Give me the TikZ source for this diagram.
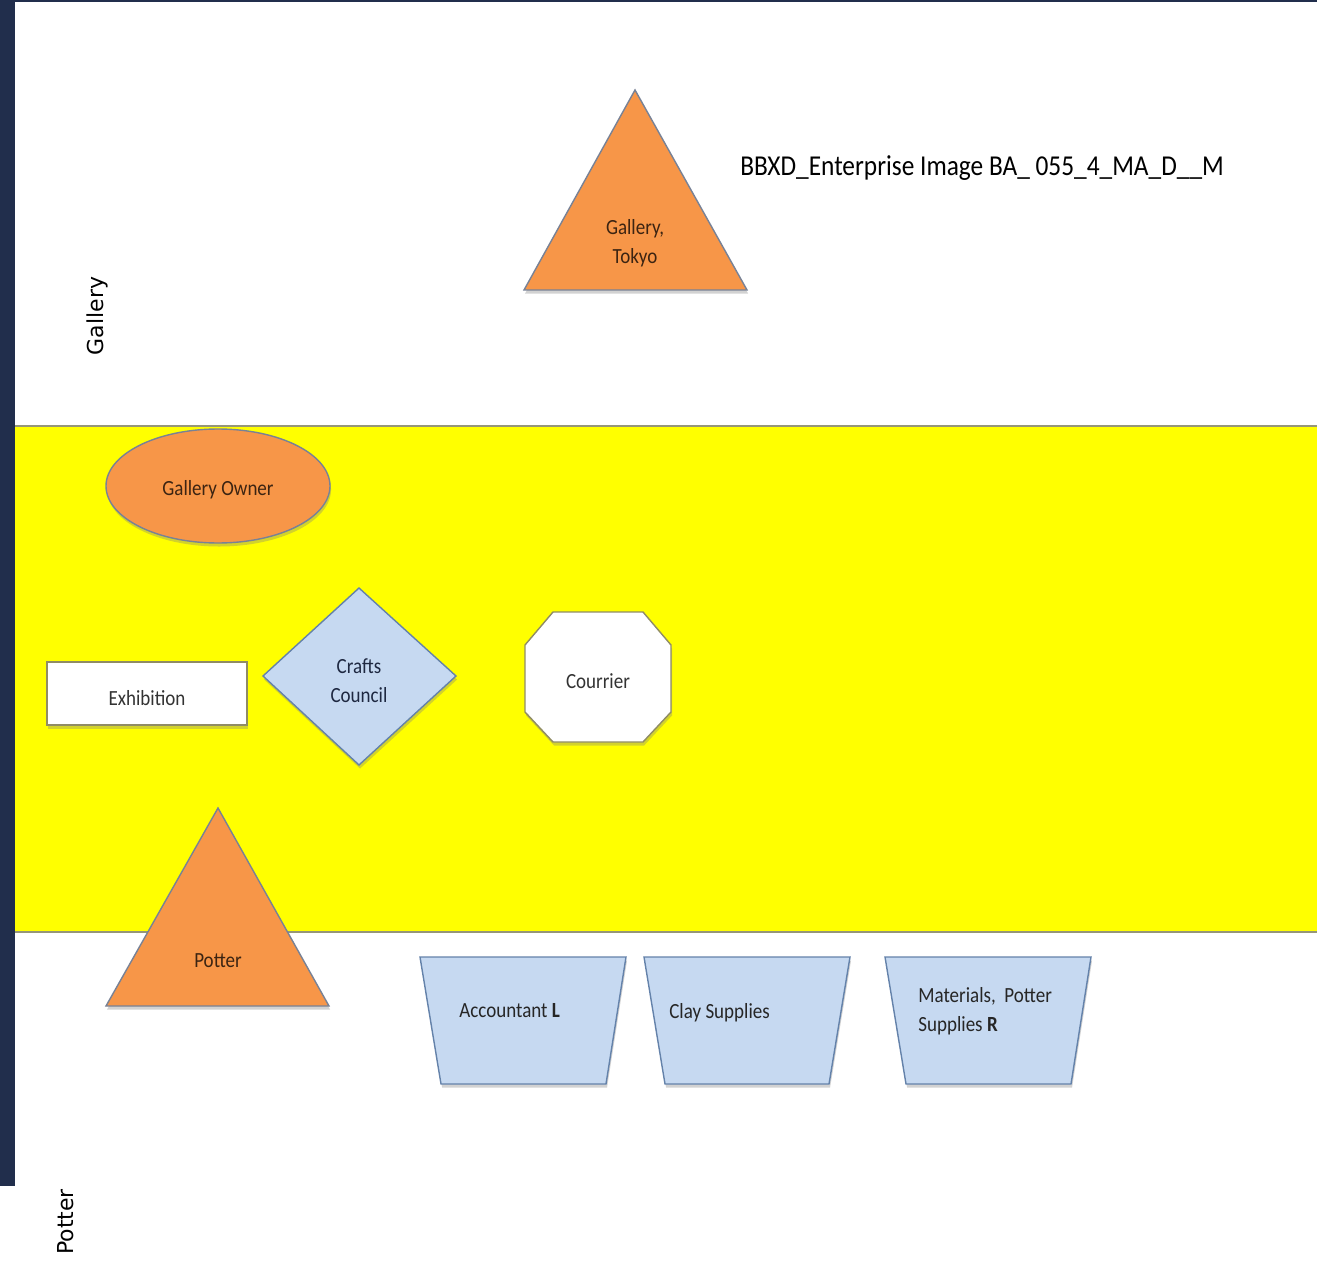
\documentclass[tikz,border=0pt]{standalone}
\usepackage{fontspec}
\setmainfont{Carlito}[FakeStretch=0.88]
\newfontfamily\lanefont{DejaVu Sans}
\usetikzlibrary{shadows}
\definecolor{navybar}{RGB}{33,46,76}
\definecolor{orangefill}{RGB}{247,150,72}
\definecolor{orangeline}{RGB}{120,130,150}
\definecolor{bluefill}{RGB}{198,217,241}
\definecolor{blueline}{RGB}{100,130,170}
\definecolor{bandline}{RGB}{150,150,120}
\definecolor{browntext}{RGB}{60,36,18}
\definecolor{navytext}{RGB}{30,40,65}
\definecolor{bandyellow}{RGB}{255,255,0}
\begin{document}
\begin{tikzpicture}[x=0.02cm,y=-0.02cm,
  shp/.style={line width=0.8pt, drop shadow={shadow xshift=0.6pt, shadow yshift=-2pt, opacity=0.35}},
  orangeshp/.style={shp, fill=orangefill, draw=orangeline},
  blueshp/.style={shp, fill=bluefill, draw=blueline},
  whiteshp/.style={shp, fill=white, draw=gray!70!olive},
  lbl/.style={font=\fontsize{12.3}{16.6}\selectfont, inner sep=0pt, align=center},
  lanelbl/.style={font=\lanefont\fontsize{12.5}{15}\selectfont, rotate=90, inner sep=0pt}]
\useasboundingbox (0,0) rectangle (1317,1263);
\fill[white] (0,0) rectangle (1317,1263);
% frame
\fill[navybar] (0,0) rectangle (15,1186);
\fill[navybar] (0,0) rectangle (1317,2.5);
% yellow band
\fill[bandyellow] (15,426) rectangle (1317,932);
\draw[bandline, line width=1.2pt] (15,426) -- (1317,426);
\draw[bandline, line width=1.2pt] (15,932) -- (1317,932);
% lane labels
\node[lanelbl] (lanegallery) at (97,316) {Gallery};
\node[lanelbl] (lanepotter) at (66,1222) {Potter};
% title
\node[font=\fontsize{16.4}{19}\selectfont, anchor=west, inner sep=0pt] (title) at (740,168) {BBXD\_Enterprise Image BA\_ 055\_4\_MA\_D\_\_M};
% Gallery Tokyo triangle
\path[orangeshp] (635,90) -- (747,290) -- (524,290) -- cycle;
\node[lbl, text=browntext] (gallerytokyo) at (635,243) {Gallery,\\Tokyo};
% Gallery owner ellipse
\path[orangeshp] (218,486) ellipse [x radius=112, y radius=57];
\node[lbl, text=browntext] (galleryowner) at (218,490) {Gallery Owner};
% Exhibition
\path[whiteshp] (47,662) rectangle (247,725);
\node[lbl, text=black!80] (exhibition) at (147,698) {Exhibition};
% Crafts council diamond
\path[blueshp] (359,588) -- (456,676) -- (359,765) -- (263,676) -- cycle;
\node[lbl, text=navytext] (crafts) at (359,681) {Crafts\\Council};
% Courrier octagon
\path[whiteshp] (553,612) -- (643,612) -- (671,645) -- (671,712) -- (643,742) -- (553,742) -- (525,712) -- (525,645) -- cycle;
\node[lbl, text=black!80] (courrier) at (598,681) {Courrier};
% Potter triangle
\path[orangeshp] (218,808) -- (329,1006) -- (106,1006) -- cycle;
\node[lbl, text=browntext] (potter) at (218,961) {Potter};
% Trapezoids
\path[blueshp] (420,957) -- (626,957) -- (606,1084) -- (441,1084) -- cycle;
\node[lbl, text=black!85, anchor=west] (accountant) at (459,1011) {Accountant \textbf{L}};
\path[blueshp] (644,957) -- (850,957) -- (829,1084) -- (665,1084) -- cycle;
\node[lbl, text=black!85, anchor=west] (clay) at (669,1013) {Clay Supplies};
\path[blueshp] (885,957) -- (1091,957) -- (1071,1084) -- (906,1084) -- cycle;
\node[lbl, text=black!85, anchor=west, align=left] (materials) at (918,1011) {Materials,\ \ Potter\\Supplies \textbf{R}};
\end{tikzpicture}
\end{document}
